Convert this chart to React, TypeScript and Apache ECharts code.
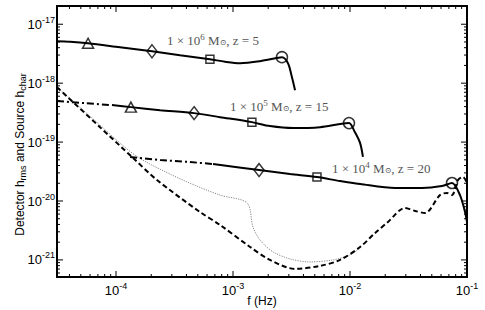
import React, { useEffect, useRef } from 'react';
import * as echarts from 'echarts';

// ---- data (frequency in Hz, strain) ----
const c1F = [3.13e-5, 4.05e-5, 5.77e-5, 1.08e-4, 2.03e-4, 3.52e-4, 6.35e-4, 8.55e-4, 1.15e-3, 1.7e-3, 2.43e-3, 2.62e-3, 2.95e-3, 3.19e-3, 3.39e-3];
const c1H = [5.15e-18, 5.05e-18, 4.76e-18, 4.07e-18, 3.48e-18, 2.99e-18, 2.55e-18, 2.31e-18, 2.18e-18, 2.36e-18, 2.7e-18, 2.76e-18, 2.18e-18, 1.26e-18, 7.6e-19];

const c2aF = [3.13e-5, 5.43e-5, 9.24e-5];
const c2aH = [4.96e-19, 4.58e-19, 4.24e-19];
const c2bF = [9.24e-5, 1.34e-4, 2.38e-4, 4.65e-4, 7.75e-4, 1.45e-3, 2.07e-3, 3.26e-3, 5.55e-3, 8.22e-3, 9.8e-3, 1.1e-2, 1.22e-2, 1.29e-2];
const c2bH = [4.24e-19, 3.92e-19, 3.48e-19, 3.1e-19, 2.65e-19, 2.18e-19, 1.87e-19, 1.73e-19, 1.79e-19, 2.02e-19, 2.1e-19, 1.48e-19, 9.6e-20, 5.6e-20];

const c3aF = [1.32e-4, 2.38e-4, 4.29e-4, 6.75e-4];
const c3aH = [5.57e-20, 4.96e-20, 4.58e-20, 4.24e-20];
const c3bF = [6.75e-4, 1.67e-3, 3.07e-3, 5.22e-3, 8.22e-3, 1.22e-2, 2.43e-2, 4.12e-2, 6.11e-2, 7.44e-2, 8.71e-2, 9.62e-2, 1.0e-1];
const c3bH = [4.24e-20, 3.35e-20, 2.87e-20, 2.55e-20, 2.18e-20, 1.94e-20, 1.66e-20, 1.66e-20, 1.79e-20, 2.02e-20, 1.26e-20, 6.5e-21, 4.4e-21];

const noiseF = [3.13e-5, 7.3e-5, 1.4e-4, 2.24e-4, 5.22e-4, 7.75e-4, 1.4e-3, 2.07e-3, 3.39e-3, 5.55e-3, 8.22e-3, 1.22e-2, 1.64e-2, 2.11e-2, 2.95e-2, 3.6e-2, 4.38e-2, 5.88e-2, 6.75e-2, 7.44e-2, 8.38e-2, 9.25e-2, 1.0e-1];
const noiseH = [8.55e-19, 1.79e-19, 5.36e-20, 2.27e-20, 6.5e-21, 3.92e-21, 1.66e-21, 1.0e-21, 7.04e-22, 7.91e-22, 1.0e-21, 1.66e-21, 2.87e-21, 4.41e-21, 7.6e-21, 6.77e-21, 6.27e-21, 1.26e-20, 1.37e-20, 1.26e-20, 2.27e-20, 2.55e-20, 2.02e-20];

const dotF = [3.13e-5, 7.3e-5, 1.08e-4, 1.45e-4, 1.95e-4, 3.89e-4, 7.75e-4, 1.32e-3, 1.48e-3, 1.7e-3, 2.2e-3, 3.07e-3, 4.55e-3, 7.16e-3, 1.0e-2, 1.22e-2];
const dotH = [8.55e-19, 1.94e-19, 9.6e-20, 6.03e-20, 4.24e-20, 2.18e-20, 1.26e-20, 9.25e-21, 3.62e-21, 2.18e-21, 1.37e-21, 1.04e-21, 9.25e-22, 1.0e-21, 1.22e-21, 1.6e-21];

const triF = [5.77e-5, 1.34e-4];
const triH = [4.76e-18, 3.92e-19];
const diaF = [2.03e-4, 4.65e-4, 1.67e-3];
const diaH = [3.48e-18, 3.1e-19, 3.35e-20];
const sqF = [6.35e-4, 1.45e-3, 5.22e-3];
const sqH = [2.55e-18, 2.18e-19, 2.55e-20];
const cirF = [2.62e-3, 9.8e-3, 7.44e-2];
const cirH = [2.76e-18, 2.1e-19, 2.02e-20];

const xTickExp = [-4, -3, -2, -1];
const yTickExp = [-21, -20, -19, -18, -17];
const fRange = [3.13e-5, 1e-1];
const hRange = [5.13e-22, 2.04e-17];

const labels = [
  { mass: '6', z: '5' },
  { mass: '5', z: '15' },
  { mass: '4', z: '20' },
];
const xName = 'f (Hz)';

// ---- helpers ----
const L = Math.log10;
const pts = (f: number[], h: number[]) => f.map((v, i) => [L(v), L(h[i])]);
const minors = (lo: number, hi: number) => {
  const out: number[] = [];
  for (let n = Math.floor(lo); n < hi; n++) {
    for (let k = 2; k <= 9; k++) {
      const v = n + Math.log10(k);
      if (v > lo && v < hi) out.push(v);
    }
  }
  return out;
};

const SANS = "'Liberation Sans', Arial, sans-serif";
const SERIF = "'Liberation Serif', 'DejaVu Serif', serif";

const X_MIN = L(fRange[0]);
const X_MAX = L(fRange[1]);
const Y_MIN = L(hRange[0]);
const Y_MAX = L(hRange[1]);

const tickRich = {
  b: { fontSize: 13, fontFamily: SANS, color: '#000' },
  s: { fontSize: 9, fontFamily: SANS, color: '#000', padding: [0, 0, 9, 0] },
};
const powFmt = (v: number) => `{b|10}{s|${Math.round(v)}}`;

// tick marks: [x, y, side(0 bottom,1 top,2 left,3 right), length]
const MAJ = 6;
const MIN = 3;
const tickData: number[][] = [];
xTickExp.forEach((v) => { tickData.push([v, Y_MIN, 0, MAJ]); tickData.push([v, Y_MAX, 1, MAJ]); });
minors(X_MIN, X_MAX).forEach((v) => { tickData.push([v, Y_MIN, 0, MIN]); tickData.push([v, Y_MAX, 1, MIN]); });
yTickExp.forEach((v) => { tickData.push([X_MIN, v, 2, MAJ]); tickData.push([X_MAX, v, 3, MAJ]); });
minors(Y_MIN, Y_MAX).forEach((v) => { tickData.push([X_MIN, v, 2, MIN]); tickData.push([X_MAX, v, 3, MIN]); });

const lineSeries = (data: number[][], type: any, width = 2, color = '#000') => ({
  type: 'line' as const,
  data,
  showSymbol: false,
  symbol: 'none',
  smooth: 0.3,
  lineStyle: { color, width, type },
  silent: true,
  z: 3,
});
const markerSeries = (f: number[], h: number[], symbol: string, size: any) => ({
  type: 'scatter' as const,
  data: pts(f, h),
  symbol,
  symbolSize: size,
  itemStyle: { color: 'rgba(255,255,255,0)', borderColor: '#000', borderWidth: 1.5 },
  silent: true,
  z: 5,
});

const DASHDOT = [7, 3, 2, 3];

const annText = (m: string, z: string) => `1 × 10{sup|${m}} M{sub|⊙}, z = ${z}`;
const annRich = {
  sup: { fontSize: 9, fontFamily: SERIF, fill: '#555', padding: [0, 0, 7, 0] },
  sub: { fontSize: 8, fontFamily: SERIF, fill: '#555', padding: [5, 0, 0, 0] },
};
const annPos = [
  [167, 40],
  [230, 106],
  [332, 168],
];

const option: any = {
  animation: false,
  grid: {
    left: 57, right: 18, top: 6, bottom: 33,
    show: true, borderColor: '#000', borderWidth: 2, backgroundColor: 'transparent',
    containLabel: false, outerBoundsMode: 'none',
  },
  xAxis: {
    type: 'value',
    min: X_MIN,
    max: X_MAX,
    splitLine: { show: false },
    axisLine: { show: false },
    axisTick: { show: false },
    axisLabel: { show: true, customValues: xTickExp, formatter: powFmt, rich: tickRich, margin: 4 },
    name: xName,
    nameLocation: 'middle',
    nameGap: 18,
    nameMoveOverlap: false,
    nameTextStyle: { fontSize: 12, fontFamily: SANS, color: '#000' },
  },
  yAxis: {
    type: 'value',
    min: Y_MIN,
    max: Y_MAX,
    splitLine: { show: false },
    axisLine: { show: false },
    axisTick: { show: false },
    axisLabel: { show: true, customValues: yTickExp, formatter: powFmt, rich: tickRich, margin: 2 },
    name: 'Detector h{sub|rms} and Source h{sub|char}',
    nameLocation: 'middle',
    nameGap: 30,
    nameMoveOverlap: false,
    nameTextStyle: {
      fontSize: 12,
      fontFamily: SANS,
      color: '#000',
      padding: [0, 26, 0, 0],
      rich: { sub: { fontSize: 9, fontFamily: SANS, color: '#000', padding: [6, 0, 0, 0] } },
    },
  },
  series: [
    {
      type: 'custom',
      data: tickData,
      encode: { x: 0, y: 1 },
      clip: false,
      silent: true,
      z: 6,
      renderItem: (params: any, api: any) => {
        const p = api.coord([api.value(0), api.value(1)]);
        const side = api.value(2);
        const len = api.value(3);
        const dx = side === 2 ? len : side === 3 ? -len : 0;
        const dy = side === 0 ? -len : side === 1 ? len : 0;
        return {
          type: 'line',
          shape: { x1: p[0], y1: p[1], x2: p[0] + dx, y2: p[1] + dy },
          style: { stroke: '#000', lineWidth: 1 },
        };
      },
    },
    lineSeries(pts(dotF, dotH), [1.2, 1.2], 1, '#888'),
    lineSeries(pts(noiseF, noiseH), [5, 3], 2),
    lineSeries(pts(c1F, c1H), 'solid', 2),
    lineSeries(pts(c2aF, c2aH), DASHDOT, 2),
    lineSeries(pts(c2bF, c2bH), 'solid', 2),
    lineSeries(pts(c3aF, c3aH), DASHDOT, 2),
    lineSeries(pts(c3bF, c3bH), 'solid', 2),
    markerSeries(triF, triH, 'triangle', [11, 10]),
    markerSeries(diaF, diaH, 'diamond', [10, 13]),
    markerSeries(sqF, sqH, 'rect', 8),
    markerSeries(cirF, cirH, 'circle', 11),
  ],
  graphic: labels.map((l, i) => ({
    type: 'text',
    x: annPos[i][0],
    y: annPos[i][1],
    silent: true,
    z: 10,
    style: {
      text: annText(l.mass, l.z),
      fontSize: 13,
      fontFamily: SERIF,
      fill: '#555',
      verticalAlign: 'middle',
      rich: annRich,
    },
  })),
};

export default function App() {
  const ref = useRef<HTMLDivElement>(null);
  useEffect(() => {
    document.body.style.margin = '0';
    const chart = echarts.init(ref.current!, null, { renderer: 'svg' });
    chart.setOption(option);
    return () => chart.dispose();
  }, []);
  return <div ref={ref} style={{ width: 485, height: 310 }} />;
}
